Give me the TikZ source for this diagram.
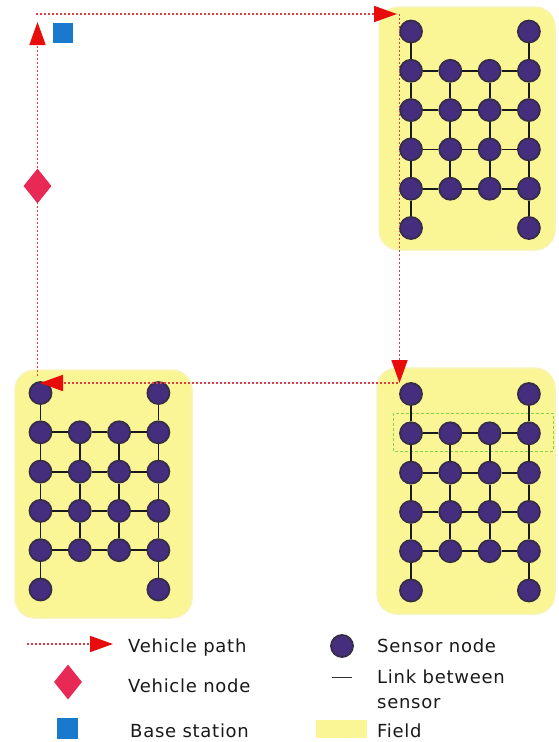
\documentclass[tikz,border=0pt]{standalone}
\usepackage{fontspec}
\setmainfont{DejaVu Sans}
\usetikzlibrary{arrows.meta,shapes.geometric}
\definecolor{fieldyellow}{RGB}{250,246,150}
\definecolor{fieldedge}{RGB}{248,244,185}
\definecolor{sensorpurple}{RGB}{68,46,125}
\definecolor{sensoredge}{RGB}{55,45,72}
\definecolor{pathred}{RGB}{222,60,70}
\definecolor{arrowred}{RGB}{232,12,12}
\definecolor{vehpink}{RGB}{232,40,85}
\definecolor{baseblue}{RGB}{25,122,205}
\definecolor{selgreen}{RGB}{140,210,70}
\begin{document}
\begin{tikzpicture}[x=1pt,y=-1pt,
  field/.style={fill=fieldyellow, draw=fieldedge, rounded corners=20pt, line width=1.5pt},
  sensor/.style={circle, fill=sensorpurple, draw=sensoredge, line width=1.8pt, minimum size=22pt, inner sep=0pt},
  link/.style={black!90, line width=1.8pt},
  vpath/.style={pathred, line width=1.7pt, dash pattern=on 2pt off 2pt},
  vtip/.style={-{Triangle[length=23pt,width=16pt,color=arrowred]}},
  vehicle/.style={diamond, fill=vehpink, minimum width=28pt, minimum height=35pt, inner sep=0pt},
  basest/.style={fill=baseblue, minimum size=20pt, inner sep=0pt},
  lbl/.style={anchor=base west, inner sep=0pt, font=\fontsize{18}{20}\selectfont\addfontfeatures{LetterSpace=4}, text=black!90},
]
\useasboundingbox (0,0) rectangle (559,742);

% fields
\path[field] (379,7) rectangle (555,250);
\path[field] (15,370) rectangle (192,618);
\path[field] (377,368) rectangle (555,614);

% selection in bottom-right field
\draw[selgreen, line width=1pt, dash pattern=on 3pt off 2pt] (393,413) rectangle (553,451);

% sensors
\foreach \f/\ox/\oy in {tr/411/31.5, bl/40.5/393, br/411/394} {
  \foreach \c in {1,2,3,4} {
    \foreach \r in {1,...,6} {
      \pgfmathtruncatemacro\keep{((\r>1) && (\r<6)) || (\c==1) || (\c==4)}
      \ifnum\keep=1
        \node[sensor] (\f-\c-\r) at ({\ox+(\c-1)*39.3},{\oy+(\r-1)*39.3}) {};
      \fi
    }
  }
  % vertical links
  \foreach \c in {1,4} {
    \foreach \r [evaluate=\r as \s using int(\r+1)] in {1,...,5} {
      \draw[link] (\f-\c-\r) -- (\f-\c-\s);
    }
  }
  \foreach \c in {2,3} {
    \foreach \r [evaluate=\r as \s using int(\r+1)] in {2,3,4} {
      \draw[link] (\f-\c-\r) -- (\f-\c-\s);
    }
  }
  % horizontal links
  \foreach \r in {2,...,5} {
    \foreach \c [evaluate=\c as \d using int(\c+1)] in {1,2,3} {
      \draw[link] (\f-\c-\r) -- (\f-\d-\r);
    }
  }
}

% vehicle path
\coordinate (p1) at (36,14);
\coordinate (p1t) at (397,14);
\coordinate (p2) at (399.5,14);
\coordinate (p2t) at (399.5,383);
\coordinate (p3) at (398,383);
\coordinate (p3t) at (40,383);
\coordinate (p4) at (37.5,376);
\coordinate (p4t) at (37.5,22);
\draw[vpath,vtip] (p1) -- (p1t);
\draw[vpath,vtip] (p2) -- (p2t);
\draw[vpath,vtip] (p3) -- (p3t);
\draw[vpath,vtip] (p4) -- (p4t);

\node[vehicle] (veh) at (37.5,186) {};
\node[basest] (bs) at (62.5,33) {};

% legend
\coordinate (lg1) at (27,644);
\coordinate (lg2) at (113,644);
\draw[vpath,vtip] (lg1) -- (lg2);
\node[vehicle] (lveh) at (68,682) {};
\node[basest, minimum size=21pt] (lbs) at (67.5,728.5) {};
\node[sensor] (lsen) at (342,646) {};
\coordinate (ll1) at (332,677);
\coordinate (ll2) at (352,677);
\draw[black!80, line width=0.8pt] (ll1) -- (ll2);
\path[fill=fieldyellow] (316,720) rectangle (367,738);

\node[lbl] (t1) at (128,652) {Vehicle path};
\node[lbl] (t2) at (128,692) {Vehicle node};
\node[lbl] (t3) at (130,737) {Base station};
\node[lbl] (t4) at (377,652) {Sensor node};
\node[lbl] (t5) at (377,683) {Link between};
\node[lbl] (t6) at (377,708) {sensor};
\node[lbl] (t7) at (377,737) {Field};
\end{tikzpicture}
\end{document}
